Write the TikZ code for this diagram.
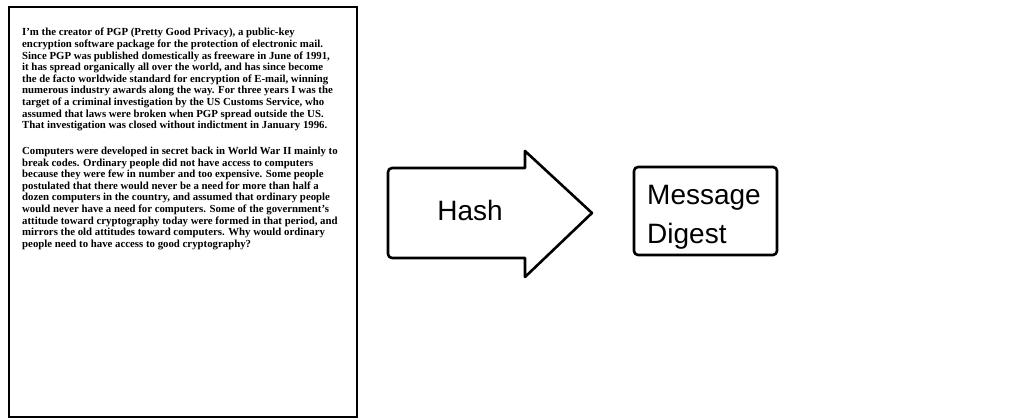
\documentclass[tikz,border=0pt]{standalone}
\usepackage{fontspec}
\setmainfont{Liberation Serif}
\newfontfamily\arialfont{Liberation Sans}
\begin{document}
\begin{tikzpicture}[x=1pt,y=-1pt,
  doctext/.style={anchor=base west, inner sep=0pt, font=\fontsize{10.8}{11.6}\selectfont\bfseries},
  biglabel/.style={inner sep=0pt, font=\arialfont\fontsize{28}{39}\selectfont},
  outline/.style={draw=black, line width=2.6pt, line join=round}]
\useasboundingbox[fill=white] (0,0) rectangle (1014,419);
% document page
\draw[line width=2pt] (9,7) rectangle (357,417);
\foreach \t [count=\i] in {
 {I'm the creator of PGP (Pretty Good Privacy), a public-key},
 {encryption software package for the protection of electronic mail.},
 {Since PGP was published domestically as freeware in June of 1991,},
 {it has spread organically all over the world, and has since become},
 {the de facto worldwide standard for encryption of E-mail, winning},
 {numerous industry awards along the way. For three years I was the},
 {target of a criminal investigation by the US Customs Service, who},
 {assumed that laws were broken when PGP spread outside the US.},
 {That investigation was closed without indictment in January 1996.}}
 \node[doctext] (pa\i) at (22,{36+(\i-1)*11.6}) {\t};
\foreach \t [count=\i] in {
 {Computers were developed in secret back in World War II mainly to},
 {break codes. Ordinary people did not have access to computers},
 {because they were few in number and too expensive. Some people},
 {postulated that there would never be a need for more than half a},
 {dozen computers in the country, and assumed that ordinary people},
 {would never have a need for computers. Some of the government's},
 {attitude toward cryptography today were formed in that period, and},
 {mirrors the old attitudes toward computers. Why would ordinary},
 {people need to have access to good cryptography?}}
 \node[doctext] (pb\i) at (22,{154.5+(\i-1)*11.6}) {\t};
% hash arrow
\draw[outline] (456,168) [rounded corners=4pt] -- (388,168) -- (388,258) -- (456,258)
  [sharp corners] -- (525,258) -- (525,277) -- (592,213) -- (525,151) -- (525,168) -- cycle;
\node[biglabel, anchor=base] (hash) at (470,221) {Hash};
% message digest box
\draw[outline, rounded corners=4pt] (634,167) rectangle (777,255);
\node[biglabel, anchor=base west] (msg) at (647,205) {Message};
\node[biglabel, anchor=base west] (dig) at (647,244) {Digest};
\end{tikzpicture}
\end{document}
